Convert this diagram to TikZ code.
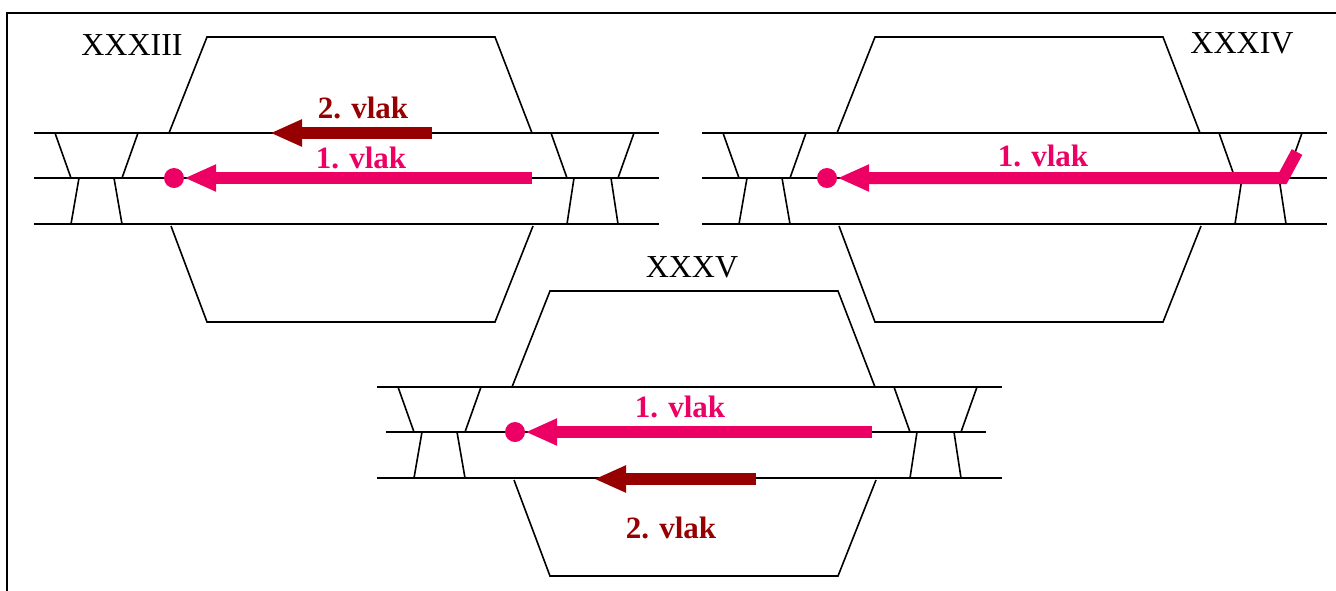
\documentclass[tikz,border=0pt]{standalone}
\usepackage{fontspec}
\setmainfont{Liberation Serif}
\usepackage{graphicx}
\usetikzlibrary{arrows.meta}
\definecolor{vlakone}{RGB}{236,0,100}
\definecolor{vlaktwo}{RGB}{150,0,0}
\tikzset{%
  track/.style={line width=1.6pt},
  train/.style={line width=12pt,-{Triangle[length=32pt,width=25pt]},draw=#1},
  train/.default=vlakone,
  stop/.style={circle,inner sep=0pt,minimum size=20pt,fill=vlakone},
  vlak/.style={font=\fontsize{31}{31}\selectfont\bfseries,text=#1,anchor=base,inner sep=0pt},
  station/.style={font=\fontsize{32}{32}\selectfont,anchor=base,inner sep=0pt}
}
\begin{document}
\begin{tikzpicture}[x=1pt,y=-1pt]
    \useasboundingbox (0,0) rectangle (1336,590);
    \draw[line width=2pt] (7,600) -- (7,13) -- (1345,13);
    %
    \foreach \dx/\dy/\ml/\mr in {0/0/0/0, 668/0/0/0, 343/254/9/16}{
      \begin{scope}[shift={(\dx,\dy)}]
        \draw[track] (34,133) -- (659,133);
        \draw[track] (34+\ml,178) -- (659-\mr,178);
        \draw[track] (34,224) -- (659,224);
        \draw[track] (169,133) -- (207,37) -- (495,37) -- (532,133);
        \draw[track] (171,226) -- (207,322) -- (495,322) -- (533,226);
        \draw[track] (55,133) -- (71,178) (138,133) -- (122,178)
          (79,178) -- (71,224) (114,178) -- (122,224);
        \draw[track] (551,133) -- (567,178) (634,133) -- (618,178)
          (574,178) -- (567,224) (611,178) -- (618,224);
      \end{scope}
    }
    %
    \node[station] (l33) at (132,55) {XXXIII};
    \node[station] (l34) at (1242,53) {XXXIV};
    \node[station] (l35) at (692,277) {XXXV};
    %
    \node[stop] (s33) at (174,178) {};
    \coordinate (t33) at (532,178);
    \draw[train] (t33) -- (s33);
    \coordinate (u33) at (432,133);
    \coordinate (v33) at (270,133);
    \draw[train=vlaktwo] (u33) -- (v33);
    \node[vlak=vlakone] (a33) at (361,168) {1. vlak};
    \node[vlak=vlaktwo] (b33) at (363,118) {2. vlak};
    %
    \node[stop] (s34) at (827,178) {};
    \coordinate (t34) at (1297,152);
    \coordinate (k34) at (1283,178);
    \draw[train,line join=miter] (t34) -- (k34) -- (s34);
    \node[vlak=vlakone] (a34) at (1043,166) {1. vlak};
    %
    \node[stop] (s35) at (515,432) {};
    \coordinate (t35) at (872,432);
    \draw[train] (t35) -- (s35);
    \coordinate (u35) at (756,479);
    \coordinate (v35) at (594,479);
    \draw[train=vlaktwo] (u35) -- (v35);
    \node[vlak=vlakone] (a35) at (680,417) {1. vlak};
    \node[vlak=vlaktwo] (b35) at (671,538) {2. vlak};
\end{tikzpicture}
\end{document}
